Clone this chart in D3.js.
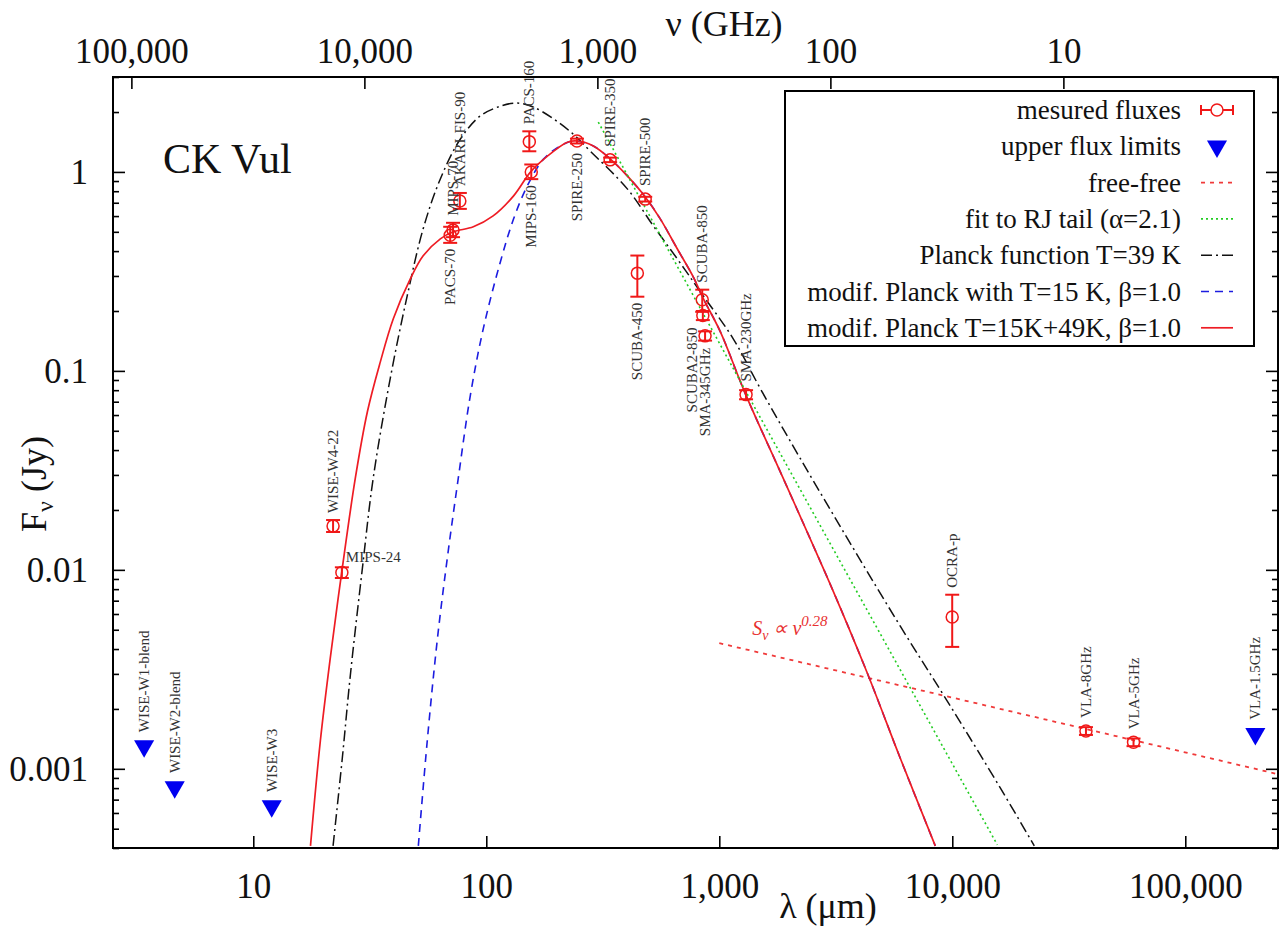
<!DOCTYPE html>
<html lang="en">
<head>
<meta charset="utf-8">
<title>CK Vul - spectral energy distribution</title>
<script src="https://d3js.org/d3.v7.min.js"></script>
<style>
  body { margin: 0; background: #fff; }
  svg { display: block; font-family: "Liberation Serif", "Times New Roman", serif; }
  .axis path { display: none; }
  .axis line { stroke: #000; stroke-width: 1.6; }
  .plabel { font-size: 15px; fill: #333; }
</style>
</head>
<body>
<svg id="chart" width="1281" height="933"></svg>
<script>
  // domaines des axes
  const lambdaDomain = [2.5, 250000];   // micron
  const fluxDomain = [4e-4, 3];         // Jy
  const C_UM_GHZ = 299792.458;          // lambda(um) * nu(GHz)

  const lambdaTicks = [10, 100, 1000, 10000, 100000];
  const nuTicks = [100000, 10000, 1000, 100, 10];
  const fluxTicks = [0.001, 0.01, 0.1, 1];

  // points mesures : nom, lambda (um), flux, bas, haut (Jy)
  const measured = [
    ["WISE-W4-22", 22, 0.0166, 0.0155, 0.0178],
    ["MIPS-24", 24, 0.0097, 0.0091, 0.0103],
    ["PACS-70", 70, 0.48, 0.44, 0.53],
    ["MIPS-70", 72, 0.51, 0.47, 0.555],
    ["AKARI-FIS-90", 77, 0.715, 0.652, 0.784],
    ["PACS-160", 153, 1.42, 1.27, 1.60],
    ["MIPS-160", 156, 1.0, 0.92, 1.09],
    ["SPIRE-250", 245, 1.43, 1.39, 1.47],
    ["SPIRE-350", 340, 1.15, 1.12, 1.18],
    ["SPIRE-500", 481, 0.73, 0.71, 0.75],
    ["SCUBA-450", 445, 0.31, 0.236, 0.38],
    ["SCUBA-850", 845, 0.228, 0.198, 0.256],
    ["SCUBA2-850", 850, 0.19, 0.18, 0.20],
    ["SMA-345GHz", 869, 0.150, 0.142, 0.158],
    ["SMA-230GHz", 1303, 0.076, 0.072, 0.080],
    ["OCRA-p", 9993, 0.0058, 0.0041, 0.0075],
    ["VLA-8GHz", 37474, 0.00155, 0.00148, 0.00162],
    ["VLA-5GHz", 59958, 0.00136, 0.0013, 0.00142]
  ];

  // limites superieures : nom, lambda, flux
  const upperLimits = [
    ["WISE-W1-blend", 3.4, 0.0013],
    ["WISE-W2-blend", 4.6, 0.00081],
    ["WISE-W3", 12, 0.00065],
    ["VLA-1.5GHz", 199862, 0.0015]
  ];

  const labelsBelow = ["PACS-70", "MIPS-160", "SPIRE-250", "SCUBA-450", "SCUBA2-850", "SMA-345GHz"];
  const labelsRight = ["MIPS-24"];
  const labelShift = { "SCUBA2-850": -11 };

  // courbes : [lambda, flux]
  const freeFree = [[1000, 0.00428], [10000, 0.00228], [250000, 0.00094]];
  const rjTail = [[302.5, 1.78], [1320, 0.0763], [15600, 4.15e-4]];
  const planck39 = [
    [22.0, 4.1e-4], [24.1, 1.13e-3], [26.1, 2.96e-3], [29.4, 0.0102], [32.7, 0.0288],
    [38.7, 0.0915], [45.8, 0.239], [53.6, 0.518], [63.5, 0.922], [77.3, 1.46],
    [94.2, 1.91], [115, 2.14], [136, 2.22], [159, 2.12], [194, 1.85], [236, 1.55],
    [280, 1.27], [403, 0.822], [521, 0.536], [660, 0.366], [829, 0.25], [1148, 0.145],
    [1500, 0.0815], [2226, 0.0363], [3649, 0.0136], [5982, 0.00521], [9517, 0.00219],
    [16070, 8.02e-4], [22490, 4.1e-4]
  ];
  const modPlanck15 = [
    [51.1, 4.1e-4], [55.8, 1.38e-3], [61.6, 4.43e-3], [68.0, 0.0114], [75.8, 0.0288],
    [85.4, 0.0752], [97.1, 0.163], [115, 0.354], [131, 0.581], [150, 0.851],
    [176, 1.16], [208, 1.35], [236, 1.43], [288, 1.35], [341, 1.16], [403, 0.955],
    [481, 0.749], [558, 0.581], [660, 0.411], [773, 0.297], [854, 0.231], [1010, 0.1575],
    [1293, 0.0769], [1882, 0.0288], [3085, 0.0078], [4317, 0.00303], [5982, 0.00113],
    [8453, 4.1e-4]
  ];
  const modPlanck1549 = [
    [17.6, 4.1e-4], [19.4, 1.38e-3], [21.4, 3.6e-3], [24.1, 0.0102], [27.4, 0.0288],
    [30.9, 0.0625], [35.1, 0.111], [39.9, 0.183], [47.2, 0.29], [53.6, 0.379],
    [63.5, 0.461], [72.2, 0.5], [88, 0.53], [107, 0.601], [131, 0.758], [155, 1.0],
    [183, 1.2], [223, 1.41], [246, 1.43], [288, 1.35], [341, 1.16], [403, 0.955],
    [481, 0.749], [558, 0.581], [660, 0.411], [773, 0.297], [854, 0.231], [1010, 0.1575],
    [1293, 0.0769], [1882, 0.0288], [3085, 0.0078], [4317, 0.00303], [5982, 0.00113],
    [8453, 4.1e-4]
  ];

  const legendItems = [
    "mesured fluxes",
    "upper flux limits",
    "free-free",
    "fit to RJ tail (\u03B1=2.1)",
    "Planck function T=39 K",
    "modif. Planck with T=15 K, \u03B2=1.0",
    "modif. Planck T=15K+49K, \u03B2=1.0"
  ];

  // couleurs / styles
  const red = "#f01818";
  const serif = "'Liberation Serif', 'Times New Roman', serif";
  const styles = {
    freeFree: { stroke: "#f03a3a", width: 1.8, dash: "4,5" },
    rj: { stroke: "#22cc22", width: 1.6, dash: "2,3" },
    planck: { stroke: "#111111", width: 1.5, dash: "11,4,2,4" },
    mod15: { stroke: "#1c1ce0", width: 1.6, dash: "8,6" },
    mod1549: { stroke: "#ee1c24", width: 1.7, dash: null }
  };

  const margin = { top: 77, right: 3, bottom: 85, left: 113 },
        width = 1281 - margin.left - margin.right,
        height = 933 - margin.top - margin.bottom;

  const svgRoot = d3.select("#chart");
  const svg = svgRoot.append("g")
          .attr("transform", `translate(${margin.left},${margin.top})`);

  const x = d3.scaleLog().domain(lambdaDomain).range([0, width]);
  const xNu = d3.scaleLog().domain([C_UM_GHZ / lambdaDomain[0], C_UM_GHZ / lambdaDomain[1]]).range([0, width]);
  const y = d3.scaleLog().domain(fluxDomain).range([height, 0]);

  const fmt = d3.format(",");
  const minorFlux = y.ticks().filter(t => !fluxTicks.some(m => Math.abs(m - t) / m < 1e-6));

  function styleAxis(g) {
    g.attr("font-family", serif).attr("font-size", 35);
    g.selectAll("text").attr("fill", "#111");
  }

  // axes
  svg.append("g").attr("class", "axis")
          .attr("transform", `translate(0,${height})`)
          .call(d3.axisBottom(x).tickValues(lambdaTicks).tickFormat(fmt).tickSize(-12).tickPadding(25))
          .call(styleAxis);
  svg.append("g").attr("class", "axis")
          .call(d3.axisTop(xNu).tickValues(nuTicks).tickFormat(fmt).tickSize(-12).tickPadding(14))
          .call(styleAxis);
  svg.append("g").attr("class", "axis")
          .call(d3.axisLeft(y).tickValues(fluxTicks).tickFormat(d3.format("~g")).tickSize(-12).tickPadding(25))
          .call(styleAxis);
  svg.append("g").attr("class", "axis")
          .call(d3.axisLeft(y).tickValues(minorFlux).tickFormat("").tickSize(-6));
  svg.append("g").attr("class", "axis")
          .attr("transform", `translate(${width},0)`)
          .call(d3.axisRight(y).tickValues(fluxTicks).tickFormat("").tickSize(-12));
  svg.append("g").attr("class", "axis")
          .attr("transform", `translate(${width},0)`)
          .call(d3.axisRight(y).tickValues(minorFlux).tickFormat("").tickSize(-6));

  // titres
  svgRoot.append("text").attr("x", 724).attr("y", 36).attr("text-anchor", "middle")
          .attr("font-size", 36).attr("fill", "#111").text("\u03BD (GHz)");
  svgRoot.append("text").attr("x", 828).attr("y", 918).attr("text-anchor", "middle")
          .attr("font-size", 36).attr("fill", "#111").text("\u03BB (\u03BCm)");
  const yTitle = svgRoot.append("text")
          .attr("transform", "translate(46,484) rotate(-90)")
          .attr("text-anchor", "middle").attr("font-size", 36).attr("fill", "#111");
  yTitle.append("tspan").text("F");
  yTitle.append("tspan").attr("font-size", 24).attr("dy", 7).text("\u03BD");
  yTitle.append("tspan").attr("dy", -7).text(" (Jy)");

  svgRoot.append("text").attr("x", 163).attr("y", 173)
          .attr("font-size", 42).attr("fill", "#111").text("CK Vul");

  // courbes
  svg.append("clipPath").attr("id", "clip")
          .append("rect").attr("width", width).attr("height", height);
  const curves = svg.append("g").attr("clip-path", "url(#clip)");

  const smooth = d3.line().x(d => x(d[0])).y(d => y(d[1])).curve(d3.curveCatmullRom.alpha(0.5));
  const straight = d3.line().x(d => x(d[0])).y(d => y(d[1]));

  function drawCurve(data, gen, st) {
    curves.append("path")
            .datum(data)
            .attr("fill", "none")
            .attr("stroke", st.stroke)
            .attr("stroke-width", st.width)
            .attr("stroke-dasharray", st.dash)
            .attr("d", gen);
  }
  drawCurve(freeFree, straight, styles.freeFree);
  drawCurve(planck39, smooth, styles.planck);
  drawCurve(modPlanck15, smooth, styles.mod15);
  drawCurve(modPlanck1549, smooth, styles.mod1549);
  drawCurve(rjTail, straight, styles.rj);

  // annotation free-free
  const ann = svg.append("text")
          .attr("x", x(1385)).attr("y", y(0.0047))
          .attr("fill", "#e83030").attr("font-size", 20).attr("font-style", "italic");
  ann.append("tspan").text("S");
  ann.append("tspan").attr("font-size", 14).attr("dy", 5).text("\u03BD");
  ann.append("tspan").attr("dy", -5).text(" \u221D \u03BD");
  ann.append("tspan").attr("font-size", 15).attr("dy", -9).text("0.28");

  // points mesures
  const pts = measured.map(d => ({ name: d[0], l: d[1], f: d[2], lo: d[3], hi: d[4] }));
  const r = 6, cap = 7;
  const pg = svg.append("g");
  pts.forEach(d => {
    const cx = x(d.l);
    pg.append("line").attr("x1", cx).attr("x2", cx).attr("y1", y(d.lo)).attr("y2", y(d.hi))
            .attr("stroke", red).attr("stroke-width", 2);
    [d.lo, d.hi].forEach(v => {
      pg.append("line").attr("x1", cx - cap).attr("x2", cx + cap).attr("y1", y(v)).attr("y2", y(v))
              .attr("stroke", red).attr("stroke-width", 2);
    });
    pg.append("circle").attr("cx", cx).attr("cy", y(d.f)).attr("r", r)
            .attr("fill", "none").attr("stroke", red).attr("stroke-width", 1.5);
  });

  // limites superieures
  const lims = upperLimits.map(d => ({ name: d[0], l: d[1], f: d[2] }));
  const tri = d3.symbol().type(d3.symbolTriangle).size(175);
  svg.append("g").selectAll("path")
          .data(lims)
          .join("path")
          .attr("d", tri)
          .attr("transform", d => `translate(${x(d.l)},${y(d.f)}) rotate(180)`)
          .attr("fill", "#0000f0");

  // etiquettes
  const lg = svg.append("g");
  pts.forEach(d => {
    const cx = x(d.l) + (labelShift[d.name] || 0);
    if (labelsRight.includes(d.name)) {
      lg.append("text").attr("class", "plabel").attr("x", cx + 4).attr("y", y(d.f) - 10).text(d.name);
    } else if (labelsBelow.includes(d.name)) {
      const yb = Math.max(y(d.lo), y(d.f) + r) + 6;
      lg.append("text").attr("class", "plabel").attr("text-anchor", "end")
              .attr("transform", `translate(${cx + 5},${yb}) rotate(-90)`).text(d.name);
    } else {
      const yt = Math.min(y(d.hi), y(d.f) - r) - 7;
      lg.append("text").attr("class", "plabel")
              .attr("transform", `translate(${cx + 5},${yt}) rotate(-90)`).text(d.name);
    }
  });
  lims.forEach(d => {
    lg.append("text").attr("class", "plabel")
            .attr("transform", `translate(${x(d.l) + 5},${y(d.f) - 14}) rotate(-90)`).text(d.name);
  });

  // cadre
  svg.append("rect").attr("width", width).attr("height", height)
          .attr("fill", "none").attr("stroke", "#000").attr("stroke-width", 2);

  // legende
  const leg = svgRoot.append("g");
  leg.append("rect").attr("x", 785).attr("y", 91).attr("width", 469).attr("height", 255)
          .attr("fill", "#fff").attr("stroke", "#000").attr("stroke-width", 2);
  const sampleX0 = 1201, sampleX1 = 1233, sampleC = 1217;
  const legStyles = [null, null, styles.freeFree, styles.rj, styles.planck, styles.mod15, styles.mod1549];
  legendItems.forEach((t, i) => {
    const cy = 110 + i * 36.3;
    leg.append("text").attr("x", 1181).attr("y", cy + 9).attr("text-anchor", "end")
            .attr("font-size", 27).attr("fill", "#111").text(t);
    if (i === 0) {
      leg.append("line").attr("x1", sampleX0).attr("x2", sampleX1).attr("y1", cy).attr("y2", cy)
              .attr("stroke", red).attr("stroke-width", 2);
      [sampleX0, sampleX1].forEach(sx => leg.append("line").attr("x1", sx).attr("x2", sx)
              .attr("y1", cy - 5).attr("y2", cy + 5).attr("stroke", red).attr("stroke-width", 2));
      leg.append("circle").attr("cx", sampleC).attr("cy", cy).attr("r", r)
              .attr("fill", "#fff").attr("stroke", red).attr("stroke-width", 1.5);
    } else if (i === 1) {
      leg.append("path").attr("d", tri).attr("fill", "#0000f0")
              .attr("transform", `translate(${sampleC},${cy}) rotate(180)`);
    } else {
      const st = legStyles[i];
      leg.append("line").attr("x1", sampleX0).attr("x2", sampleX1).attr("y1", cy).attr("y2", cy)
              .attr("stroke", st.stroke).attr("stroke-width", st.width).attr("stroke-dasharray", st.dash);
    }
  });
</script>
</body>
</html>
